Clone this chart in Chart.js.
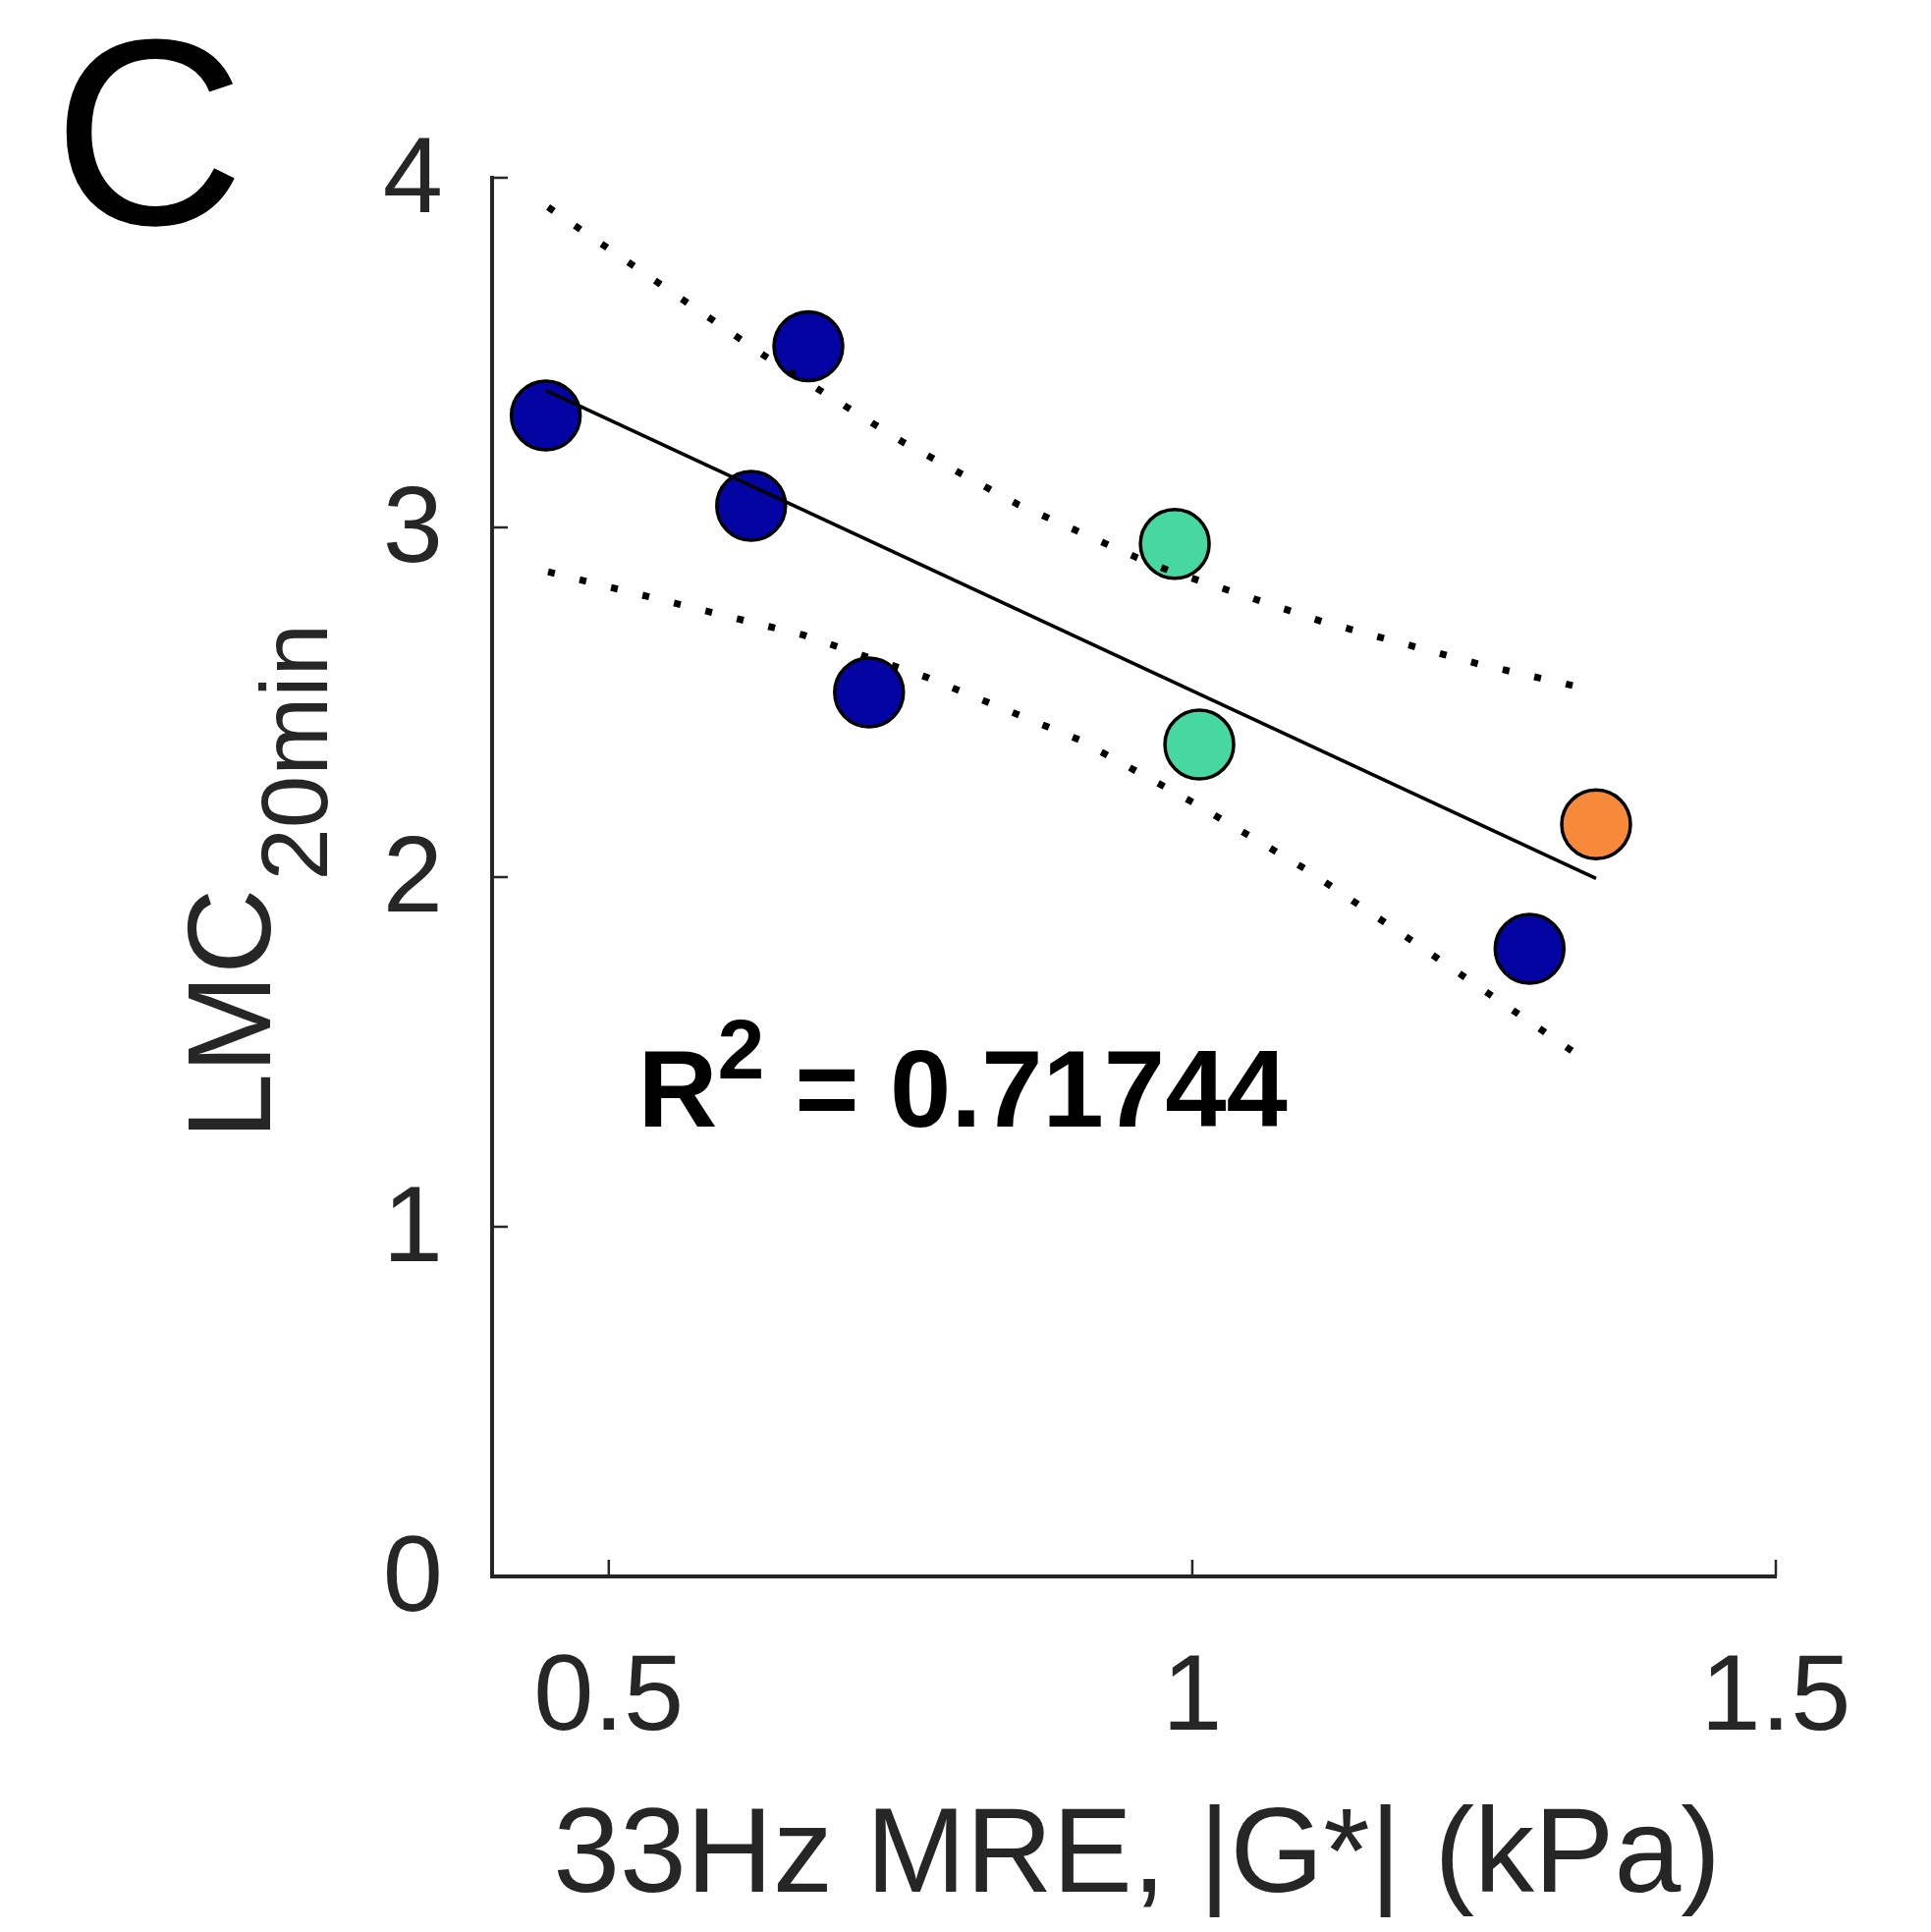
<!DOCTYPE html>
<html>
<head>
<meta charset="utf-8">
<title>LMC 20min vs 33Hz MRE</title>
<script src="https://cdn.jsdelivr.net/npm/chart.js@4.4.1/dist/chart.umd.min.js"></script>
<style>
  html, body { margin: 0; padding: 0; background: #fff; }
  #chart { display: block; }
</style>
</head>
<body>
<canvas id="chart" width="1966" height="1967"></canvas>
<script>
// tick labels
var xTicks = [0.5, 1, 1.5];
var yTicks = [0, 1, 2, 3, 4];

// subjects, one array pair per marker colour
var blueX = [0.446, 0.622, 0.671, 0.723, 1.289];
var blueY = [3.320, 3.062, 3.518, 2.528, 1.795];
var greenX = [0.985, 1.006];
var greenY = [2.953, 2.379];
var orangeX = [1.346];
var orangeY = [2.151];

// linear fit and its dotted confidence bounds
var fitX = [0.446, 1.346];
var fitY = [3.392, 1.996];
var upperX = [0.448, 0.633, 0.752, 0.851, 0.953, 0.979, 1.112, 1.247, 1.330];
var upperY = [3.916, 3.492, 3.244, 3.065, 2.913, 2.878, 2.730, 2.608, 2.545];
var lowerX = [0.448, 0.667, 0.772, 0.903, 1.002, 1.098, 1.190, 1.330];
var lowerY = [2.873, 2.692, 2.572, 2.393, 2.211, 2.021, 1.814, 1.492];

var rSquared = '0.71744';
var rLabelAt = [0.525, 1.287];   // data position of the R² note

var ink = '#262626';
var family = '"Liberation Sans", Arial, Helvetica, sans-serif';

function pts(xs, ys) {
    return xs.map(function (x, i) { return { x: x, y: ys[i] }; });
}

function markers(xs, ys, colour) {
    return {
        data: pts(xs, ys),
        order: 2,
        pointRadius: 35,
        pointHoverRadius: 35,
        pointBorderWidth: 3.5,
        pointBackgroundColor: colour,
        pointBorderColor: '#000',
        clip: false
    };
}

function line(xs, ys, dash, width) {
    return {
        data: pts(xs, ys),
        order: 1,
        showLine: true,
        borderColor: '#000',
        borderWidth: width,
        borderDash: dash,
        borderCapStyle: 'butt',
        pointRadius: 0,
        pointHoverRadius: 0,
        tension: 0,
        clip: false
    };
}

// MATLAB style ticks pointing into the plot
var inwardTicks = {
    id: 'inwardTicks',
    afterDraw: function (chart) {
        var ctx = chart.ctx, area = chart.chartArea;
        ctx.save();
        ctx.strokeStyle = ink;
        ctx.lineWidth = 2.5;
        chart.scales.x.ticks.forEach(function (t) {
            var px = chart.scales.x.getPixelForValue(t.value);
            ctx.beginPath();
            ctx.moveTo(px, area.bottom);
            ctx.lineTo(px, area.bottom - 17);
            ctx.stroke();
        });
        chart.scales.y.ticks.forEach(function (t) {
            var py = chart.scales.y.getPixelForValue(t.value);
            ctx.beginPath();
            ctx.moveTo(area.left, py);
            ctx.lineTo(area.left + 16, py);
            ctx.stroke();
        });
        ctx.restore();
    }
};

var texts = {
    id: 'texts',
    afterDraw: function (chart) {
        var ctx = chart.ctx, area = chart.chartArea;
        var xs = chart.scales.x, ys = chart.scales.y;
        ctx.save();
        ctx.textBaseline = 'alphabetic';
        ctx.textAlign = 'left';

        // panel letter
        ctx.fillStyle = '#000';
        ctx.font = '270px ' + family;
        ctx.fillText('C', 54, 228);

        // R² note
        var px = xs.getPixelForValue(rLabelAt[0]);
        var py = ys.getPixelForValue(rLabelAt[1]);
        ctx.font = 'bold 112px ' + family;
        ctx.fillText('R', px, py);
        var rw = ctx.measureText('R').width;
        ctx.font = 'bold 86px ' + family;
        ctx.fillText('2', px + rw, py - 49);
        var sw = ctx.measureText('2').width;
        ctx.font = 'bold 112px ' + family;
        ctx.fillText(' = ' + rSquared, px + rw + sw, py);

        // x title
        ctx.fillStyle = ink;
        ctx.font = '122px ' + family;
        ctx.textAlign = 'center';
        ctx.fillText('33Hz MRE, |G*| (kPa)', (area.left + area.right) / 2 + 3, area.bottom + 321);

        // y title with subscript
        ctx.textAlign = 'left';
        ctx.translate(275, 1160);
        ctx.rotate(-Math.PI / 2);
        ctx.font = '121px ' + family;
        ctx.fillText('LMC', 0, 0);
        var w = ctx.measureText('LMC').width;
        ctx.font = '96px ' + family;
        ctx.fillText('20min', w + 8, 58);
        ctx.restore();
    }
};

var ctx = document.getElementById('chart').getContext('2d');
var chart = new Chart(ctx, {
    type: 'scatter',
    data: {
        datasets: [
            line(fitX, fitY, [], 3.5),
            line(upperX, upperY, [7, 26], 7),
            line(lowerX, lowerY, [7, 26], 7),
            markers(blueX, blueY, '#0404a3'),
            markers(greenX, greenY, '#47d7a0'),
            markers(orangeX, orangeY, '#f7893a')
        ]
    },
    options: {
        responsive: false,
        animation: false,
        events: [],
        layout: { padding: { left: 0, right: 158, top: 181, bottom: 0 } },
        plugins: {
            legend: { display: false },
            tooltip: { enabled: false }
        },
        scales: {
            x: {
                type: 'linear',
                position: 'bottom',
                min: 0.4,
                max: 1.5,
                afterBuildTicks: function (s) {
                    s.ticks = xTicks.map(function (v) { return { value: v }; });
                },
                afterFit: function (s) { s.height = 362; },
                grid: { display: false, drawTicks: false },
                border: { display: true, color: ink, width: 4 },
                ticks: {
                    color: ink,
                    font: { family: family, size: 110 },
                    padding: 60,
                    maxRotation: 0,
                    autoSkip: false,
                    callback: function (v) { return String(v); }
                }
            },
            y: {
                type: 'linear',
                min: 0,
                max: 4,
                afterBuildTicks: function (s) {
                    s.ticks = yTicks.map(function (v) { return { value: v }; });
                },
                afterFit: function (s) { s.width = 501; },
                grid: { display: false, drawTicks: false },
                border: { display: true, color: ink, width: 4 },
                ticks: {
                    color: ink,
                    font: { family: family, size: 110 },
                    padding: 50,
                    labelOffset: 5,
                    autoSkip: false,
                    callback: function (v) { return String(v); }
                }
            }
        }
    },
    plugins: [inwardTicks, texts]
});
</script>
</body>
</html>
